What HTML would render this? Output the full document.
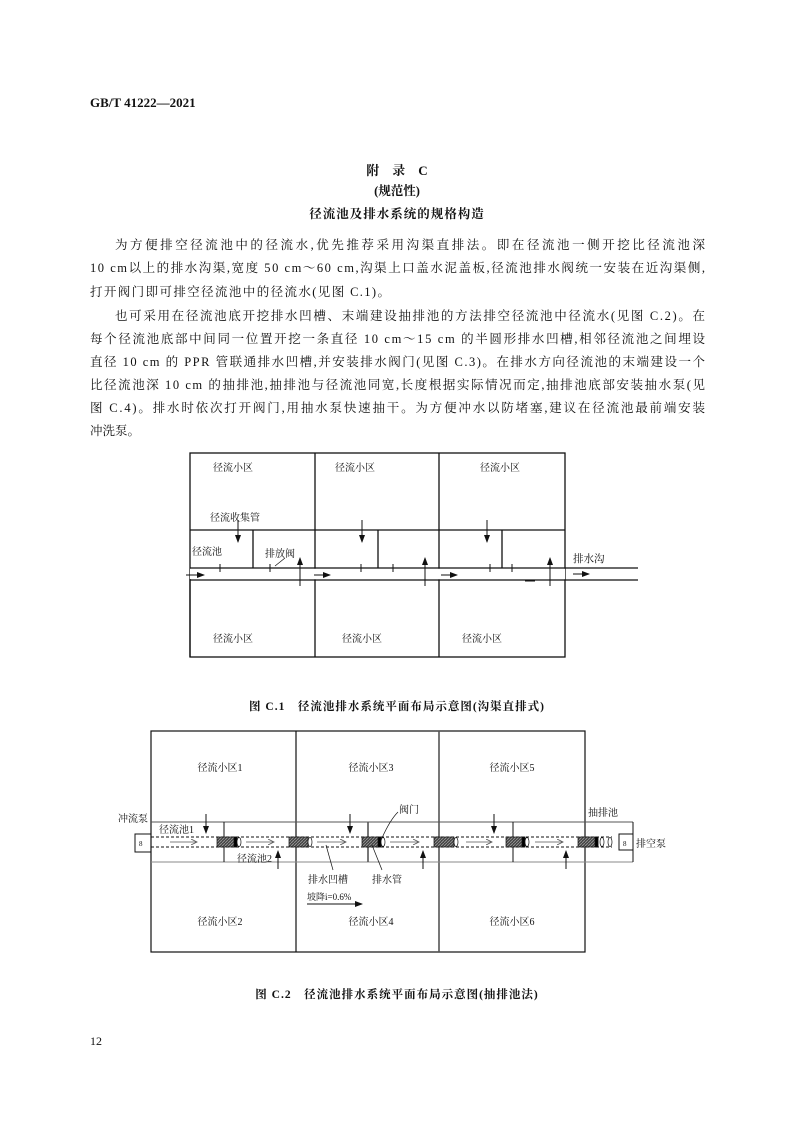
<!DOCTYPE html>
<html><head><meta charset="utf-8"><style>
html,body{margin:0;padding:0;background:#fff;}
body{width:794px;height:1123px;position:relative;overflow:hidden;}
svg{position:absolute;left:0;top:0;}
text{font-family:"Liberation Serif","Noto Serif CJK SC","Noto Sans CJK SC",serif;fill:#111;}
.p{font-size:12.5px;}
.s{font-size:10px;}
</style></head><body>
<svg width="794" height="1123" viewBox="0 0 794 1123">
<defs>
<marker id="a" markerWidth="8" markerHeight="6" refX="7" refY="3" orient="auto" markerUnits="userSpaceOnUse"><path d="M0,0 L8,3 L0,6 z" fill="#111"/></marker>
<marker id="g" markerWidth="7" markerHeight="6" refX="6" refY="3" orient="auto" markerUnits="userSpaceOnUse"><path d="M0,0 L6,3 L0,6" fill="none" stroke="#555" stroke-width="0.8"/></marker>
<pattern id="h" width="3" height="3" patternUnits="userSpaceOnUse"><rect width="3" height="3" fill="#444"/><path d="M0,3 L3,0" stroke="#999" stroke-width="0.8"/></pattern>
</defs>
<text x="90" y="107" style="font-size:13px;font-weight:bold">GB/T 41222—2021</text>
<text x="397" y="175" text-anchor="middle" style="font-size:13px;font-weight:bold">附　录　C</text>
<text x="397" y="195" text-anchor="middle" style="font-size:12.5px;font-weight:bold">(规范性)</text>
<text x="397" y="218" text-anchor="middle" style="font-size:12.5px;font-weight:bold;letter-spacing:1px">径流池及排水系统的规格构造</text>
<g class="p">
<text x="115" y="249" textLength="590" lengthAdjust="spacing">为方便排空径流池中的径流水,优先推荐采用沟渠直排法。即在径流池一侧开挖比径流池深</text>
<text x="90" y="272" textLength="615" lengthAdjust="spacing">10 cm以上的排水沟渠,宽度 50 cm～60 cm,沟渠上口盖水泥盖板,径流池排水阀统一安装在近沟渠侧,</text>
<text x="90" y="296" textLength="300" lengthAdjust="spacing">打开阀门即可排空径流池中的径流水(见图 C.1)。</text>
<text x="115" y="320" textLength="590" lengthAdjust="spacing">也可采用在径流池底开挖排水凹槽、末端建设抽排池的方法排空径流池中径流水(见图 C.2)。在</text>
<text x="90" y="343" textLength="615" lengthAdjust="spacing">每个径流池底部中间同一位置开挖一条直径 10 cm～15 cm 的半圆形排水凹槽,相邻径流池之间埋设</text>
<text x="90" y="366" textLength="615" lengthAdjust="spacing">直径 10 cm 的 PPR 管联通排水凹槽,并安装排水阀门(见图 C.3)。在排水方向径流池的末端建设一个</text>
<text x="90" y="389" textLength="615" lengthAdjust="spacing">比径流池深 10 cm 的抽排池,抽排池与径流池同宽,长度根据实际情况而定,抽排池底部安装抽水泵(见</text>
<text x="90" y="412" textLength="615" lengthAdjust="spacing">图 C.4)。排水时依次打开阀门,用抽水泵快速抽干。为方便冲水以防堵塞,建议在径流池最前端安装</text>
<text x="90" y="435">冲洗泵。</text>
</g>
<!-- Fig C.1 -->
<g stroke="#111" stroke-width="1.3" fill="none">
<rect x="190" y="453" width="375" height="204"/>
<line x1="315" y1="453" x2="315" y2="657"/><line x1="439" y1="453" x2="439" y2="657"/>
<line x1="190" y1="530" x2="565" y2="530"/>
<line x1="253" y1="530" x2="253" y2="568"/><line x1="378" y1="530" x2="378" y2="568"/><line x1="502" y1="530" x2="502" y2="568"/>
<rect x="190" y="568.7" width="375" height="10.6" fill="#fff" stroke="none"/>
<line x1="190" y1="568" x2="638" y2="568"/><line x1="190" y1="580" x2="638" y2="580"/>
<line x1="190" y1="579" x2="190" y2="657"/>
</g>
<g stroke="#111" stroke-width="1" fill="none">
<line x1="220" y1="564" x2="220" y2="572"/><line x1="270" y1="564" x2="270" y2="572"/>
<line x1="361" y1="564" x2="361" y2="572"/><line x1="393" y1="564" x2="393" y2="572"/>
<line x1="490" y1="564" x2="490" y2="572"/><line x1="512" y1="564" x2="512" y2="572"/>
<line x1="186" y1="575" x2="204" y2="575" marker-end="url(#a)"/>
<line x1="314" y1="575" x2="330" y2="575" marker-end="url(#a)"/>
<line x1="441" y1="575" x2="457" y2="575" marker-end="url(#a)"/>
<line x1="573" y1="574" x2="589" y2="574" marker-end="url(#a)"/>
<line x1="238" y1="520" x2="238" y2="542" marker-end="url(#a)"/>
<line x1="362" y1="520" x2="362" y2="542" marker-end="url(#a)"/>
<line x1="487" y1="520" x2="487" y2="542" marker-end="url(#a)"/>
<line x1="300" y1="586" x2="300" y2="558" marker-end="url(#a)"/>
<line x1="425" y1="586" x2="425" y2="558" marker-end="url(#a)"/>
<line x1="550" y1="586" x2="550" y2="558" marker-end="url(#a)"/>
<line x1="275" y1="566" x2="285" y2="558" stroke-width="0.7"/>
<line x1="525" y1="581" x2="535" y2="581"/>
</g>
<g class="s">
<text x="213" y="471">径流小区</text><text x="335" y="471">径流小区</text><text x="480" y="471">径流小区</text>
<text x="210" y="521">径流收集管</text>
<text x="192" y="555">径流池</text><text x="265" y="557">排放阀</text>
<text x="573" y="562" style="font-size:10.5px">排水沟</text>
<text x="213" y="642">径流小区</text><text x="342" y="642">径流小区</text><text x="462" y="642">径流小区</text>
</g>
<text x="397" y="710" text-anchor="middle" style="font-size:11.5px;font-weight:bold;letter-spacing:1px">图 C.1　径流池排水系统平面布局示意图(沟渠直排式)</text>
<!-- Fig C.2 -->
<g stroke="#111" stroke-width="1.2" fill="none">
<rect x="151" y="731" width="434" height="221"/>
<line x1="296" y1="731" x2="296" y2="952"/>
<line x1="439" y1="731" x2="439" y2="952" stroke="#555" stroke-width="1.6"/>
<line x1="151" y1="822" x2="633" y2="822" stroke="#555" stroke-width="1"/>
<line x1="151" y1="862" x2="633" y2="862" stroke="#888" stroke-width="1"/>
<line x1="633" y1="822" x2="633" y2="862" stroke-width="1"/>
<line x1="224" y1="822" x2="224" y2="862" stroke-width="1"/>
<line x1="368" y1="822" x2="368" y2="862" stroke="#555" stroke-width="1.6"/>
<line x1="513" y1="822" x2="513" y2="862" stroke-width="1"/>
<rect x="135" y="834" width="16" height="18" stroke-width="1"/>
<rect x="619" y="834" width="14" height="16" stroke-width="1"/>
<line x1="151" y1="837" x2="612" y2="837" stroke-dasharray="3,2" stroke-width="1"/>
<line x1="151" y1="847" x2="612" y2="847" stroke-dasharray="3,2" stroke-width="1"/>
</g>
<g stroke="#111" stroke-width="0.7">
<rect x="217" y="837" width="19" height="10" fill="url(#h)"/><rect x="234" y="837" width="3" height="10" fill="#000"/><ellipse cx="239" cy="842" rx="2" ry="4.5" fill="#fff"/>
<rect x="289" y="837" width="19" height="10" fill="url(#h)"/><ellipse cx="310" cy="842" rx="2" ry="4.5" fill="#fff"/>
<rect x="362" y="837" width="19" height="10" fill="url(#h)"/><rect x="378" y="837" width="3" height="10" fill="#000"/><ellipse cx="383" cy="842" rx="2" ry="4.5" fill="#fff"/>
<rect x="434" y="837" width="20" height="10" fill="url(#h)"/><ellipse cx="456" cy="842" rx="2" ry="4.5" fill="#fff"/>
<rect x="506" y="837" width="19" height="10" fill="url(#h)"/><rect x="522" y="837" width="3" height="10" fill="#000"/><ellipse cx="527" cy="842" rx="2" ry="4.5" fill="#fff"/>
<rect x="578" y="837" width="20" height="10" fill="url(#h)"/><rect x="595" y="837" width="3" height="10" fill="#000"/><ellipse cx="602" cy="842" rx="2" ry="4.5" fill="#fff"/><ellipse cx="610" cy="842" rx="2" ry="4.5" fill="#fff"/>
</g>
<g stroke="#555" stroke-width="0.8" fill="none">
<line x1="170" y1="842" x2="197" y2="842" marker-end="url(#g)"/>
<line x1="246" y1="842" x2="274" y2="842" marker-end="url(#g)"/>
<line x1="317" y1="842" x2="346" y2="842" marker-end="url(#g)"/>
<line x1="390" y1="842" x2="419" y2="842" marker-end="url(#g)"/>
<line x1="466" y1="842" x2="492" y2="842" marker-end="url(#g)"/>
<line x1="535" y1="842" x2="563" y2="842" marker-end="url(#g)"/>
</g>
<g stroke="#111" stroke-width="1" fill="none">
<line x1="206" y1="814" x2="206" y2="833" marker-end="url(#a)"/>
<line x1="350" y1="814" x2="350" y2="833" marker-end="url(#a)"/>
<line x1="494" y1="814" x2="494" y2="833" marker-end="url(#a)"/>
<line x1="278" y1="869" x2="278" y2="851" marker-end="url(#a)"/>
<line x1="423" y1="869" x2="423" y2="851" marker-end="url(#a)"/>
<line x1="566" y1="869" x2="566" y2="851" marker-end="url(#a)"/>
<line x1="307" y1="904" x2="362" y2="904" marker-end="url(#a)"/>
<path d="M382,838 Q390,820 398,812" stroke-width="0.7"/>
<path d="M326,845 L333,870" stroke-width="0.7"/>
<path d="M372,845 L382,870" stroke-width="0.7"/>
</g>
<g class="s">
<text x="220" y="771" text-anchor="middle">径流小区1</text><text x="371" y="771" text-anchor="middle">径流小区3</text><text x="512" y="771" text-anchor="middle">径流小区5</text>
<text x="220" y="925" text-anchor="middle">径流小区2</text><text x="371" y="925" text-anchor="middle">径流小区4</text><text x="512" y="925" text-anchor="middle">径流小区6</text>
<text x="118" y="822">冲流泵</text><text x="588" y="816">抽排池</text><text x="636" y="847">排空泵</text>
<text x="159" y="833">径流池1</text><text x="237" y="862">径流池2</text>
<text x="399" y="813">阀门</text>
<text x="308" y="883">排水凹槽</text><text x="372" y="883">排水管</text>
<text x="307" y="900" style="font-size:9px">坡降i=0.6%</text>
<text x="139" y="846" style="font-size:7px">8</text><text x="623" y="846" style="font-size:7px">8</text>
</g>
<text x="397" y="998" text-anchor="middle" style="font-size:11.5px;font-weight:bold;letter-spacing:1px">图 C.2　径流池排水系统平面布局示意图(抽排池法)</text>
<text x="90" y="1045" style="font-size:12px">12</text>
</svg>
</body></html>
